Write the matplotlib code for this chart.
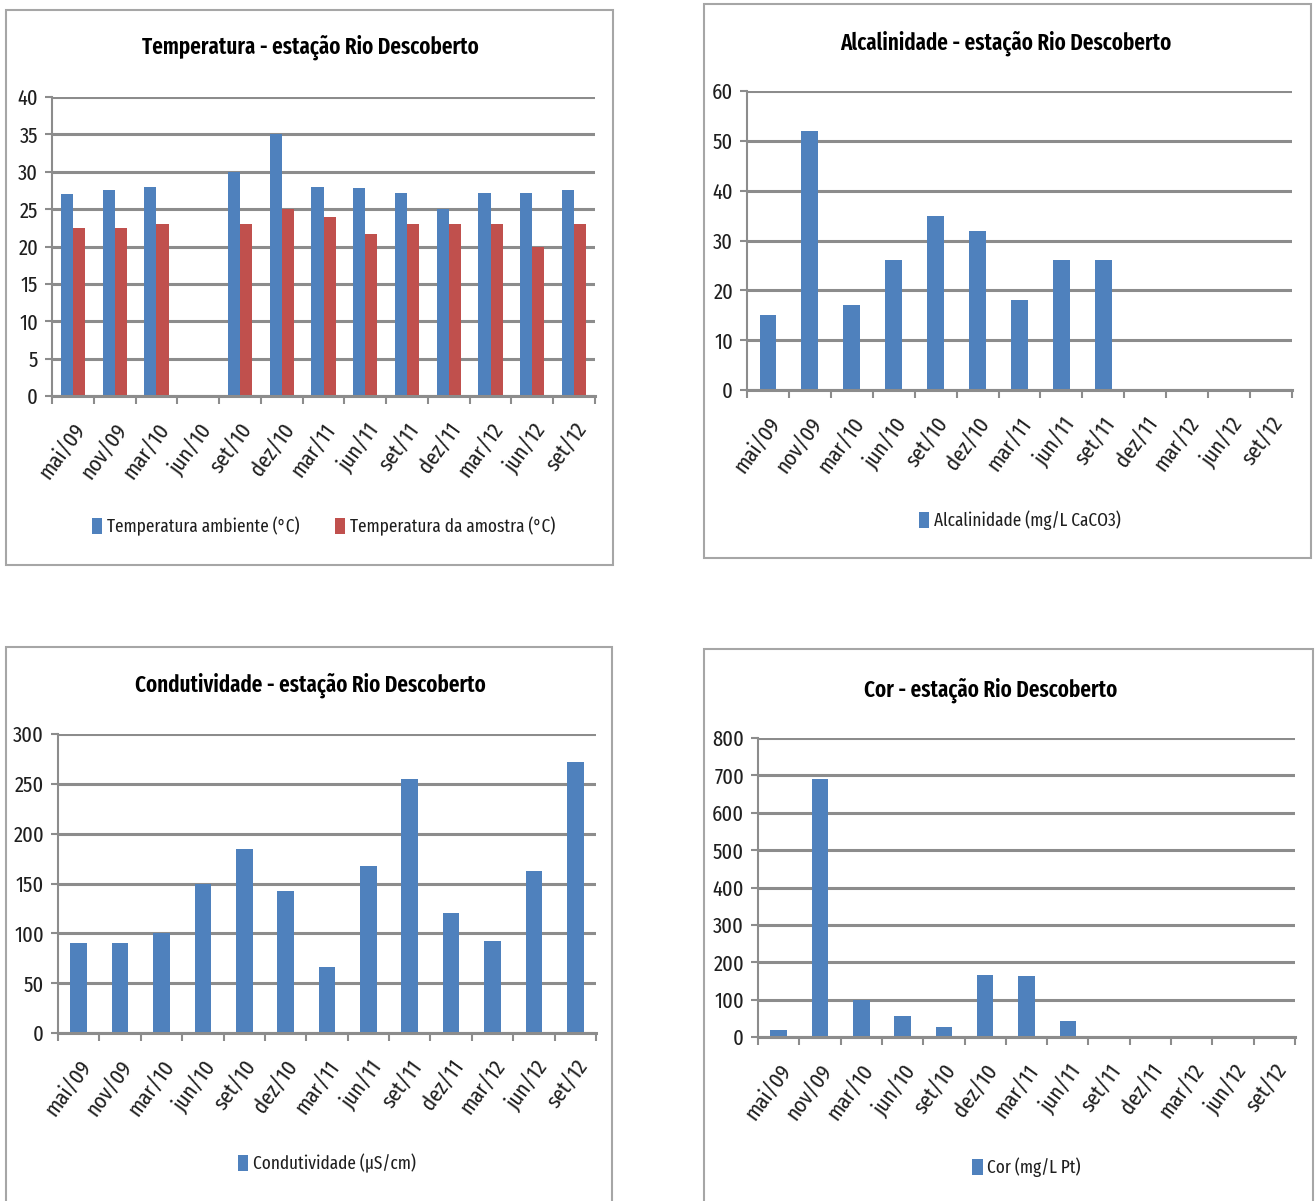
import numpy as np
import matplotlib
matplotlib.use("Agg")
import matplotlib.pyplot as plt
from matplotlib.patches import Rectangle

plt.rcParams['font.family'] = ['Fira Sans Extra Condensed', 'Carlito', 'DejaVu Sans']

categories = ["mai/09", "nov/09", "mar/10", "jun/10", "set/10", "dez/10", "mar/11",
              "jun/11", "set/11", "dez/11", "mar/12", "jun/12", "set/12"]
nan = np.nan
temp_ambiente = [27, 27.5, 28, nan, 30, 35, 28, 27.8, 27.2, 25, 27.2, 27.2, 27.6]
temp_amostra = [22.5, 22.5, 23, nan, 23, 25, 24, 21.7, 23, 23, 23, 20, 23]
alcalinidade = [15, 52, 17, 26, 35, 32, 18, 26, 26, nan, nan, nan, nan]
condutividade = [90, 90, 100, 150, 185, 142, 66, 168, 255, 120, 92, 163, 272]
cor = [18, 690, 100, 55, 27, 165, 162, 43, nan, nan, nan, nan, nan]

BLUE = "#4F81BD"
RED = "#C0504D"
GRID = "#8C8C8C"
TXT = "#1f1f1f"
W, H = 1315, 1201

fig = plt.figure(figsize=(W / 100, H / 100), dpi=100)


def px_box(x0, y0, x1, y1):
    return [x0 / W, 1 - y1 / H, (x1 - x0) / W, (y1 - y0) / H]


def border(x0, y0, x1, y1):
    r = Rectangle((x0 / W, 1 - y1 / H), (x1 - x0) / W, (y1 - y0) / H,
                  transform=fig.transFigure, fill=False, edgecolor="#A6A6A6",
                  linewidth=1.5)
    fig.patches.append(r)


def style_axes(ax, ymax, ystep):
    n = len(categories)
    ax.set_xlim(-0.5, n - 0.5)
    ax.set_ylim(0, ymax)
    ax.set_yticks(np.arange(0, ymax + ystep / 2, ystep))
    ax.yaxis.grid(True, color=GRID, linewidth=2.2)
    ax.set_axisbelow(True)
    for s in ["top", "right"]:
        ax.spines[s].set_visible(False)
    ax.spines["left"].set_color(GRID)
    ax.spines["bottom"].set_color(GRID)
    ax.spines["left"].set_linewidth(1.5)
    ax.spines["bottom"].set_linewidth(2.2)
    ax.set_xticks(np.arange(n))
    ax.set_xticklabels(categories, rotation=54, ha="right", rotation_mode="anchor",
                       fontsize=16.5, color=TXT)
    ax.set_xticks(np.arange(-0.5, n, 1.0), minor=True)
    ax.tick_params(axis="x", which="major", length=0, pad=17)
    ax.tick_params(axis="x", which="minor", length=6, color=GRID, width=1.5)
    ax.tick_params(axis="y", length=5, color=GRID, width=1.5, labelsize=16,
                   labelcolor=TXT, pad=5)


def legend(ax, ncol, y=-0.437):
    lg = ax.legend(loc="center", bbox_to_anchor=(0.5, y), frameon=False, ncol=ncol,
                   fontsize=13.5, handlelength=0.55, handleheight=0.95, handletextpad=0.25,
                   columnspacing=1.9, borderaxespad=0)
    for t in lg.get_texts():
        t.set_color(TXT)


def title(xc, yc, s):
    fig.text(xc / W, 1 - yc / H, s, ha="center", va="center", fontsize=16.5,
             fontweight="semibold", color="black")


x = np.arange(len(categories))

# Panel 1: Temperatura
border(6, 10, 613, 565)
ax1 = fig.add_axes(px_box(52, 97, 595, 396))
w = 0.29
ax1.bar(x - w / 2, temp_ambiente, w, color=BLUE, label="Temperatura ambiente (°C)")
ax1.bar(x + w / 2, temp_amostra, w, color=RED, label="Temperatura da amostra (°C)")
style_axes(ax1, 40, 5)
legend(ax1, 2)
title(310, 47, "Temperatura - estação Rio Descoberto")

# Panel 2: Alcalinidade
border(704, 4, 1311, 558)
ax2 = fig.add_axes(px_box(747, 91, 1292, 390))
ax2.bar(x, alcalinidade, 0.4, color=BLUE, label="Alcalinidade (mg/L CaCO3)")
style_axes(ax2, 60, 10)
legend(ax2, 1)
title(1006, 43, "Alcalinidade - estação Rio Descoberto")

# Panel 3: Condutividade
border(6, 647, 612, 1210)
ax3 = fig.add_axes(px_box(58, 734, 596, 1033))
ax3.bar(x, condutividade, 0.4, color=BLUE, label="Condutividade (µS/cm)")
style_axes(ax3, 300, 50)
legend(ax3, 1)
title(310, 685, "Condutividade - estação Rio Descoberto")

# Panel 4: Cor
border(704, 649, 1313, 1210)
ax4 = fig.add_axes(px_box(758, 738, 1295, 1037))
ax4.bar(x, cor, 0.4, color=BLUE, label="Cor (mg/L Pt)")
style_axes(ax4, 800, 100)
legend(ax4, 1)
title(991, 690, "Cor - estação Rio Descoberto")

fig.savefig("out.png", dpi=100, facecolor="white")
